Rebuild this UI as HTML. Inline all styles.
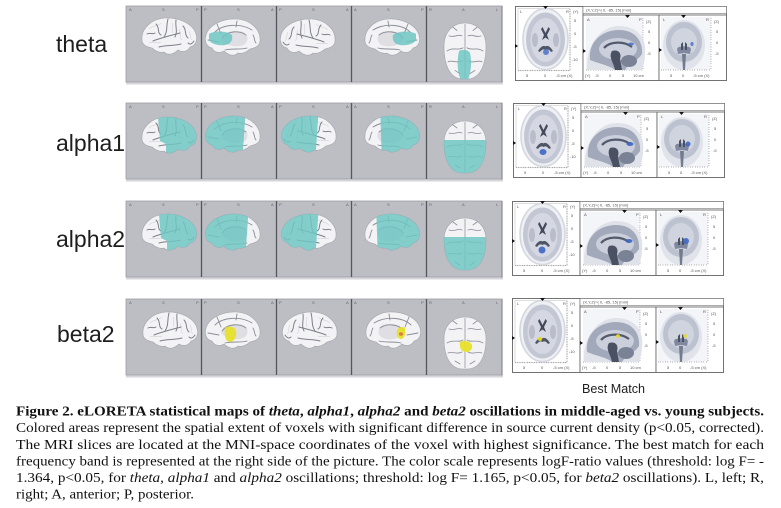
<!DOCTYPE html>
<html><head><meta charset="utf-8"><style>
html,body{margin:0;padding:0;background:#fff;}
svg{display:block;}
</style></head><body>
<svg width="781" height="508" viewBox="0 0 781 508" xmlns="http://www.w3.org/2000/svg" xmlns:xlink="http://www.w3.org/1999/xlink">
<defs>
  <path id="latOut" d="M-27,3 C-28,-8 -18,-18 -4,-19 C10,-20 24,-13 27,-3 C29,4 26,9 21,10 C19,14 14,16 9,13 C5,17 -1,19 -5,15 C-9,16 -14,14 -17,11 C-22,10 -27,8 -27,3 Z"/>
  <path id="topOut" d="M0,-26 C11,-26 21,-19 21,-4 C21,13 15,26 2,26 L-2,26 C-15,26 -21,13 -21,-4 C-21,-19 -11,-26 0,-26 Z"/>
  <clipPath id="clipLat"><use xlink:href="#latOut"/></clipPath>
  <clipPath id="clipMed"><use xlink:href="#latOut" transform="scale(-1,1)"/></clipPath>
  <clipPath id="clipTop"><use xlink:href="#topOut"/></clipPath>

  <g id="latBrain">
    <use xlink:href="#latOut" fill="#f3f3f5" stroke="#a4a4ac" stroke-width="0.6"/>
    <g fill="none" stroke="#c8c8d0" stroke-width="0.5">
      <path d="M-20,-8 C-16,-12 -12,-10 -8,-14"/><path d="M3,-14 C5,-10 2,-7 4,-4"/>
      <path d="M10,-8 C12,-4 10,0 13,3"/><path d="M-20,6 C-16,4 -12,7 -8,5"/>
      <path d="M20,-6 C22,-2 21,2 23,3"/>
    </g>
    <g fill="none" stroke="#7e8089" stroke-width="1" stroke-linecap="round">
      <path d="M-16,4 C-9,1 0,-1 11,-4"/>
      <path d="M-1,-18 C-3,-11 -1,-6 -5,0"/>
      <path d="M7,-17 C6,-10 9,-6 6,0"/>
      <path d="M-13,-13 C-9,-9 -12,-4 -8,-2"/>
      <path d="M14,-11 C18,-7 15,-2 19,1"/>
      <path d="M-10,10 C-3,8 4,9 12,7"/>
      <path d="M-22,-3 C-19,-5 -17,-2 -14,-4"/>
      <path d="M19,6 C21,8 23,7 25,4"/>
    </g>
  </g>

  <g id="medBrain">
    <use xlink:href="#latOut" transform="scale(-1,1)" fill="#f3f3f5" stroke="#a4a4ac" stroke-width="0.6"/>
    <path d="M-12,2 C-10,-6 0,-9 10,-6 C15,-4 16,2 12,6 C6,10 -6,9 -12,2 Z" fill="#dedee3"/>
    <g fill="none" stroke="#8c8e98" stroke-width="0.9" stroke-linecap="round">
      <path d="M-11,0 C-6,-7 6,-8 13,-3"/>
      <path d="M-18,-6 C-10,-14 8,-15 19,-8"/>
      <path d="M-16,-14 L-12,-4"/>
      <path d="M-25,2 L-14,4"/>
      <path d="M-8,12 C0,10 8,12 14,10"/>
      <path d="M4,-17 L3,-11"/>
      <path d="M20,-3 C22,0 21,3 23,5"/>
    </g>
  </g>

  <g id="topBrain">
    <use xlink:href="#topOut" fill="#f3f3f5" stroke="#a4a4ac" stroke-width="0.6"/>
    <line x1="0" y1="-25" x2="0" y2="25" stroke="#a0a0a8" stroke-width="0.9"/>
    <g fill="none" stroke="#8c8e98" stroke-width="0.8" stroke-linecap="round">
      <path d="M-18,0 C-12,-4 -6,0 -2,-3"/><path d="M18,0 C12,-4 6,0 2,-3"/>
      <path d="M-16,-14 C-10,-12 -8,-16 -3,-14"/><path d="M16,-14 C10,-12 8,-16 3,-14"/>
      <path d="M-17,10 C-12,8 -8,12 -3,9"/><path d="M17,10 C12,8 8,12 3,9"/>
      <path d="M-12,-22 L-8,-19"/><path d="M12,-22 L8,-19"/>
      <path d="M-10,18 L-5,21"/><path d="M10,18 L5,21"/>
    </g>
  </g>

  <g id="mri">
    <rect x="0.5" y="0.5" width="211" height="74" fill="#fff" stroke="#6a6a6a" stroke-width="0.9"/>
    <!-- axial -->
    <rect x="0.5" y="0.5" width="67.5" height="74" fill="#fff" stroke="#6a6a6a" stroke-width="0.9"/>
    <rect x="3" y="2.5" width="52" height="62" fill="none" stroke="#aaa" stroke-width="0.4"/>
    <line x1="55" y1="3" x2="55" y2="64" stroke="#666" stroke-width="1.2" stroke-dasharray="0.4 2"/>
    <line x1="3" y1="64.5" x2="55" y2="64.5" stroke="#666" stroke-width="1.2" stroke-dasharray="0.4 2"/>
    <ellipse cx="30.5" cy="33" rx="22.5" ry="30.5" fill="#eef0f4" stroke="#d4d7df" stroke-width="1.6"/>
    <ellipse cx="30.5" cy="33.5" rx="19.5" ry="27" fill="#c3c7d4"/>
    <ellipse cx="30.5" cy="34" rx="15" ry="22" fill="#d5d8e2"/>
    <ellipse cx="20" cy="34" rx="3" ry="7" fill="#b9bdcb"/>
    <ellipse cx="41" cy="34" rx="3" ry="7" fill="#b9bdcb"/>
    <path d="M27.5,21 L30.5,27 L33.5,21 L35,23 L32,29 L34,34 L30.5,31.5 L27,34 L29,29 L26,23 Z" fill="#434a5b"/>
    <path d="M23,45 C26,40 29,39 30.5,40.5 C32,39 35,40 38,45 L36,46 C34,43 32,43 30.5,44 C29,43 27,43 25,46 Z" fill="#4e5665"/>
    <polygon points="28,0 33,0 30.5,3" fill="#111"/>
    <polygon points="0,38 3,40 0,42" fill="#111"/>
    <g font-family="Liberation Sans, sans-serif" font-size="4" fill="#555">
      <text x="5" y="7">L</text><text x="51" y="7">R</text><text x="58" y="7">(Y)</text>
      <text x="59" y="16">5</text><text x="59" y="29">0</text><text x="58" y="42">-5</text><text x="57" y="55">-10</text>
      <text x="11" y="71">5</text><text x="29" y="71">0</text><text x="41" y="71">-5 cm (X)</text>
    </g>
    <!-- header -->
    <rect x="68" y="0.5" width="143.5" height="7" fill="#fff" stroke="#777" stroke-width="0.6"/>
    <text x="71" y="5.5" font-family="Liberation Sans, sans-serif" font-size="4" fill="#555">(X,Y,Z)=( 0, -85, 15) [mm]</text>
    <!-- sagittal -->
    <rect x="68" y="9" width="76" height="65.5" fill="#fff" stroke="#6a6a6a" stroke-width="0.9"/>
    <rect x="71" y="11" width="57" height="53" fill="#f4f5f8"/>
    <line x1="128" y1="12" x2="128" y2="63" stroke="#666" stroke-width="1.2" stroke-dasharray="0.4 2"/>
    <line x1="71" y1="64" x2="128" y2="64" stroke="#666" stroke-width="1.2" stroke-dasharray="0.4 2"/>
    <path d="M72,64 C70,42 84,20 104,20 C124,20 132,34 130,48 C130,56 128,62 126,64 Z" fill="#dfe2e9"/>
    <path d="M75,54 C73,36 87,24 104,24 C121,24 128,36 127,48 C123,54 118,56 114,58 L110,64 L100,64 C96,60 85,58 75,54 Z" fill="#a2a9bb"/>
    <ellipse cx="103" cy="43" rx="19" ry="11" fill="#cbcfdb"/>
    <path d="M89,42 C95,35 109,35 117,41" fill="none" stroke="#525a6c" stroke-width="2.2"/>
    <path d="M97,45 C103,43 107,47 105,53 L107,64 L100,64 C99,57 93,51 97,45 Z" fill="#4a5162"/>
    <ellipse cx="114" cy="55" rx="8" ry="6" fill="#7a8296"/>
    <polygon points="110,9 115,9 112.5,12" fill="#111"/>
    <polygon points="68,43 71,45 68,47" fill="#111"/>
    <g font-family="Liberation Sans, sans-serif" font-size="4" fill="#555">
      <text x="72" y="15">A</text><text x="124" y="15">P</text><text x="131" y="17">(Z)</text>
      <text x="133" y="27">5</text><text x="133" y="38">0</text><text x="132" y="49">-5</text>
      <text x="70" y="71">(Y)</text><text x="80" y="71">-5</text><text x="94" y="71">0</text><text x="107" y="71">5</text><text x="118" y="71">10 cm</text>
    </g>
    <!-- coronal -->
    <rect x="144" y="9" width="67.5" height="65.5" fill="#fff" stroke="#6a6a6a" stroke-width="0.9"/>
    <rect x="146" y="11" width="50" height="53" fill="#f4f5f8"/>
    <line x1="196" y1="12" x2="196" y2="63" stroke="#666" stroke-width="1.2" stroke-dasharray="0.4 2"/>
    <line x1="146" y1="64" x2="196" y2="64" stroke="#666" stroke-width="1.2" stroke-dasharray="0.4 2"/>
    <ellipse cx="169" cy="39" rx="21" ry="25" fill="#e0e3ea"/>
    <ellipse cx="169" cy="36" rx="18" ry="20" fill="#bdc2d0"/>
    <ellipse cx="169" cy="36" rx="13" ry="14" fill="#d0d4de"/>
    <path d="M162,43 C164,39 166,42 169,40 C172,42 174,39 176,43 L175,48 L169,47 L163,48 Z" fill="#8088a0"/>
    <path d="M166,38 L168,36 L168,44 L166,44 Z M170,36 L172,38 L172,44 L170,44 Z" fill="#4a5162"/>
    <path d="M167,48 L171,48 L170,64 L168,64 Z" fill="#737b8f"/>
    <polygon points="166,9 171,9 168.5,12" fill="#111"/>
    <polygon points="144,42 147,44 144,46" fill="#111"/>
    <g font-family="Liberation Sans, sans-serif" font-size="4" fill="#555">
      <text x="148" y="15">L</text><text x="191" y="15">R</text><text x="199" y="17">(Z)</text>
      <text x="201" y="27">5</text><text x="201" y="38">0</text><text x="200" y="49">-5</text>
      <text x="155" y="71">5</text><text x="167" y="71">0</text><text x="178" y="71">-5 cm (X)</text>
    </g>
  </g>

  <g id="panels">
    <rect x="126" y="0" width="376" height="76" fill="#bdbdc4" stroke="#9c9ca4" stroke-width="0.8"/>
    <line x1="201.5" y1="0" x2="201.5" y2="76" stroke="#56565e" stroke-width="1.3"/>
    <line x1="276.5" y1="0" x2="276.5" y2="76" stroke="#56565e" stroke-width="1.3"/>
    <line x1="351.5" y1="0" x2="351.5" y2="76" stroke="#56565e" stroke-width="1.3"/>
    <line x1="426.5" y1="0" x2="426.5" y2="76" stroke="#56565e" stroke-width="1.3"/>
    <line x1="502" y1="0" x2="502" y2="77" stroke="#8a8a92" stroke-width="1.2"/>
    <line x1="126" y1="77.5" x2="503" y2="77.5" stroke="#d6d6da" stroke-width="2"/>
    <g font-family="Liberation Sans, sans-serif" font-size="4" fill="#666">
      <text x="129" y="5">A</text><text x="162" y="5">S</text><text x="196" y="5">P</text>
      <text x="204" y="5">P</text><text x="237" y="5">S</text><text x="271" y="5">A</text>
      <text x="279" y="5">P</text><text x="312" y="5">S</text><text x="346" y="5">A</text>
      <text x="354" y="5">A</text><text x="387" y="5">S</text><text x="421" y="5">P</text>
      <text x="429" y="5">R</text><text x="462" y="5">A</text><text x="496" y="5">L</text>
    </g>
  </g>
</defs>

<rect width="781" height="508" fill="#fff"/>

<!-- labels -->
<g font-family="Liberation Sans, Arial, sans-serif" font-size="23" fill="#1e1e1e">
  <text x="56" y="52">theta</text>
  <text x="56" y="151">alpha1</text>
  <text x="56" y="247">alpha2</text>
  <text x="57" y="342">beta2</text>
</g>

<!-- ROW 1 theta -->
<use xlink:href="#panels" transform="translate(0,6)"/>
<g transform="translate(169,37)"><use xlink:href="#latBrain"/></g>
<g transform="translate(233,38)"><use xlink:href="#medBrain"/>
  <g clip-path="url(#clipMed)"><path d="M-24,-4 C-18,-8 -6,-7 -1,-3 C0,2 -2,6 -8,7 C-14,8 -22,6 -24,2 Z" fill="#6fc6c3" opacity="0.85"/></g></g>
<g transform="translate(308,38) scale(-1,1)"><use xlink:href="#latBrain"/></g>
<g transform="translate(392,38) scale(-1,1)"><use xlink:href="#medBrain"/>
  <g clip-path="url(#clipMed)"><path d="M-24,-4 C-18,-8 -6,-7 -1,-3 C0,2 -2,6 -8,7 C-14,8 -22,6 -24,2 Z" fill="#6fc6c3" opacity="0.85"/></g></g>
<g transform="translate(465,51) scale(1,1.08)"><use xlink:href="#topBrain"/>
  <g clip-path="url(#clipTop)"><path d="M-6,0 C-2,-2 4,-1 5,2 C7,10 6,20 3,27 L-4,27 C-8,20 -8,8 -6,0 Z" fill="#6fc6c3" opacity="0.85"/></g></g>

<!-- ROW 2 alpha1 -->
<use xlink:href="#panels" transform="translate(0,103)"/>
<g transform="translate(169,136)"><use xlink:href="#latBrain"/>
  <g clip-path="url(#clipLat)"><polygon points="-12,-30 40,-30 40,30 -3,30 -3,8 -9,5" fill="#6fc6c3" opacity="0.85"/></g></g>
<g transform="translate(233,135)"><use xlink:href="#medBrain"/>
  <g clip-path="url(#clipMed)"><polygon points="-40,-30 13,-30 9,30 -40,30" fill="#6fc6c3" opacity="0.85"/></g></g>
<g transform="translate(309,135) scale(-1,1)"><use xlink:href="#latBrain"/>
  <g clip-path="url(#clipLat)"><polygon points="-10,-30 40,-30 40,30 -6,30" fill="#6fc6c3" opacity="0.85"/></g></g>
<g transform="translate(392,135) scale(-1,1)"><use xlink:href="#medBrain"/>
  <g clip-path="url(#clipMed)"><polygon points="-40,-30 12,-30 10,30 -40,30" fill="#6fc6c3" opacity="0.85"/></g></g>
<g transform="translate(465,147)"><use xlink:href="#topBrain"/>
  <g clip-path="url(#clipTop)"><rect x="-30" y="-7" width="60" height="40" fill="#6fc6c3" opacity="0.85"/></g></g>

<!-- ROW 3 alpha2 -->
<use xlink:href="#panels" transform="translate(0,201)"/>
<g transform="translate(169,233)"><use xlink:href="#latBrain"/>
  <g clip-path="url(#clipLat)"><polygon points="-11,-30 40,-30 40,30 -2,30 -2,8 -8,5" fill="#6fc6c3" opacity="0.85"/></g></g>
<g transform="translate(233,233)"><use xlink:href="#medBrain"/>
  <g clip-path="url(#clipMed)"><polygon points="-40,-30 16,-30 12,30 -40,30" fill="#6fc6c3" opacity="0.85"/></g></g>
<g transform="translate(309,233) scale(-1,1)"><use xlink:href="#latBrain"/>
  <g clip-path="url(#clipLat)"><polygon points="-10,-30 40,-30 40,30 -6,30" fill="#6fc6c3" opacity="0.85"/></g></g>
<g transform="translate(392,233) scale(-1,1)"><use xlink:href="#medBrain"/>
  <g clip-path="url(#clipMed)"><polygon points="-40,-30 16,-30 14,30 -40,30" fill="#6fc6c3" opacity="0.85"/></g></g>
<g transform="translate(465,244)"><use xlink:href="#topBrain"/>
  <g clip-path="url(#clipTop)"><rect x="-30" y="-7" width="60" height="40" fill="#6fc6c3" opacity="0.85"/></g></g>

<!-- ROW 4 beta2 -->
<use xlink:href="#panels" transform="translate(0,299)"/>
<g transform="translate(170,331)"><use xlink:href="#latBrain"/></g>
<g transform="translate(233,331)"><use xlink:href="#medBrain"/>
  <path d="M-8,-3 C-4,-6 2,-4 3,0 C4,5 2,10 -3,11 C-7,11 -9,6 -8,-3 Z" fill="#e6e02a" opacity="0.95"/></g>
<g transform="translate(310,331) scale(-1,1)"><use xlink:href="#latBrain"/></g>
<g transform="translate(393,331) scale(-1,1)"><use xlink:href="#medBrain"/>
  <path d="M-12,-3 C-9,-5 -5,-4 -4,0 C-3,4 -5,8 -8,8 C-11,8 -13,4 -12,-3 Z" fill="#e6e02a" opacity="0.95"/>
  <ellipse cx="-8" cy="3" rx="2" ry="1.8" fill="#d8624a" opacity="0.8"/></g>
<g transform="translate(465,343)"><use xlink:href="#topBrain"/>
  <path d="M-5,-1 C-1,-3 5,-2 7,2 C8,6 5,9 1,9 C-3,9 -6,6 -5,-1 Z" fill="#e6e02a" opacity="0.95"/></g>

<!-- MRI boxes -->
<use xlink:href="#mri" transform="translate(515,6)"/>
<g fill="#4a72c8" opacity="0.85">
  <ellipse cx="546" cy="52" rx="3" ry="3"/><ellipse cx="631" cy="44" rx="3" ry="1.5"/><ellipse cx="692" cy="44" rx="1.6" ry="2"/>
</g>
<use xlink:href="#mri" transform="translate(513,103)"/>
<g fill="#3f66c4" opacity="0.9">
  <ellipse cx="543" cy="152" rx="3.5" ry="3"/><ellipse cx="630" cy="144" rx="3.5" ry="2"/><ellipse cx="688" cy="144" rx="2.5" ry="2.5"/>
</g>
<use xlink:href="#mri" transform="translate(512,201)"/>
<g fill="#3f66c4" opacity="0.9">
  <ellipse cx="542" cy="250" rx="3.5" ry="3.5"/><ellipse cx="629" cy="241" rx="3.5" ry="2"/><ellipse cx="686" cy="241" rx="3" ry="3"/>
</g>
<use xlink:href="#mri" transform="translate(512,298)"/>
<g fill="#e8d820" opacity="0.95">
  <ellipse cx="540" cy="339" rx="2" ry="2"/><ellipse cx="618" cy="336" rx="2" ry="1.8"/><ellipse cx="685" cy="336" rx="1.8" ry="1.8"/>
</g>

<text x="582" y="393" font-family="Liberation Sans, Arial, sans-serif" font-size="12.6" fill="#1e1e1e">Best Match</text>

<!-- caption -->
<g font-family="Liberation Serif, 'Times New Roman', serif" font-size="14" fill="#111">
  <text x="16" y="415.5" font-weight="bold" textLength="748" lengthAdjust="spacingAndGlyphs">Figure 2. eLORETA statistical maps of <tspan font-style="italic">theta</tspan>, <tspan font-style="italic">alpha1</tspan>, <tspan font-style="italic">alpha2</tspan> and <tspan font-style="italic">beta2</tspan> oscillations in middle-aged vs. young subjects.</text>
  <text x="16" y="432" textLength="748" lengthAdjust="spacingAndGlyphs">Colored areas represent the spatial extent of voxels with significant difference in source current density (p&lt;0.05, corrected).</text>
  <text x="16" y="449" textLength="748" lengthAdjust="spacingAndGlyphs">The MRI slices are located at the MNI-space coordinates of the voxel with highest significance. The best match for each</text>
  <text x="16" y="465.5" textLength="748" lengthAdjust="spacingAndGlyphs">frequency band is represented at the right side of the picture. The color scale represents logF-ratio values (threshold: log F= -</text>
  <text x="16" y="482" textLength="748" lengthAdjust="spacingAndGlyphs">1.364, p&lt;0.05, for <tspan font-style="italic">theta</tspan>, <tspan font-style="italic">alpha1</tspan> and <tspan font-style="italic">alpha2</tspan> oscillations; threshold: log F= 1.165, p&lt;0.05, for <tspan font-style="italic">beta2</tspan> oscillations). L, left; R,</text>
  <text x="16" y="498.5" textLength="178" lengthAdjust="spacingAndGlyphs">right; A, anterior; P, posterior.</text>
</g>
</svg>
</body></html>
